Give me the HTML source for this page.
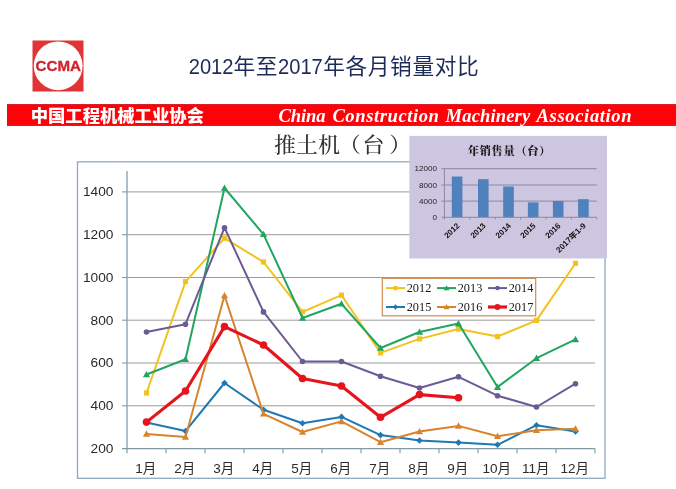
<!DOCTYPE html>
<html lang="zh-CN"><head><meta charset="utf-8"><title>2012年至2017年各月销量对比</title>
<style>
html,body{margin:0;padding:0;background:#fff;}
body{width:676px;height:489px;overflow:hidden;position:relative;font-family:"Liberation Sans","Noto Sans CJK SC",sans-serif;}
svg{position:absolute;left:0;top:0;display:block;filter:blur(0.35px);}
.sans{font-family:"Liberation Sans","Noto Sans CJK SC",sans-serif;}
.serif{font-family:"Liberation Serif","Noto Serif CJK SC",serif;}
</style></head><body>
<svg width="676" height="489" viewBox="0 0 676 489">
<rect width="676" height="489" fill="#ffffff"/>

<g id="logo"><rect x="32.5" y="40.5" width="51" height="51" fill="#e23434"/><circle cx="58.2" cy="65.8" r="24.4" fill="#ffffff"/>
<text x="35.6" y="71.1" class="sans" font-size="15.2" font-weight="700" fill="#d0252e" stroke="#d0252e" stroke-width="0.35" textLength="45.4" lengthAdjust="spacingAndGlyphs">CCMA</text></g>
<text y="74.3" class="sans" font-size="21.7" fill="#1c2b5a"><tspan x="188.7" textLength="44.8" lengthAdjust="spacingAndGlyphs">2012</tspan><tspan x="233.4 255.7">年至</tspan><tspan x="278" textLength="44.8" lengthAdjust="spacingAndGlyphs">2017</tspan><tspan x="323.2 345.5 367.8 390.1 412.4 434.7 457">年各月销量对比</tspan></text>
<rect x="7" y="104" width="669" height="22" fill="#fd0309"/>
<rect x="7" y="104" width="669" height="1" fill="#d8202a"/><rect x="7" y="125" width="669" height="1" fill="#d8202a"/>
<text x="30.7" y="122" class="sans" font-size="16.6" font-weight="900" fill="#ffffff" textLength="173.2" lengthAdjust="spacingAndGlyphs">中国工程机械工业协会</text>
<text y="121.9" class="serif" font-size="18.6" font-weight="700" font-style="italic" fill="#ffffff"><tspan x="278.6" textLength="47" lengthAdjust="spacing">China</tspan> <tspan x="332.4" textLength="106.5" lengthAdjust="spacing">Construction</tspan> <tspan x="445.6" textLength="84.6" lengthAdjust="spacing">Machinery</tspan> <tspan x="536.6" textLength="95" lengthAdjust="spacing">Association</tspan></text>
<rect x="77.5" y="161.8" width="527.5" height="316.5" fill="#ffffff" stroke="#8fa9c4" stroke-width="1.3"/>
<text transform="translate(0 152.2) scale(1 0.95)" y="0" x="274 296 318 338.8 362.6 389.2" class="serif" font-size="22" font-weight="500" fill="#333333">推土机（台）</text>
<line x1="127" y1="191.9" x2="595" y2="191.9" stroke="#9b9b9b" stroke-width="1"/>
<line x1="127" y1="234.7" x2="595" y2="234.7" stroke="#9b9b9b" stroke-width="1"/>
<line x1="127" y1="277.5" x2="595" y2="277.5" stroke="#9b9b9b" stroke-width="1"/>
<line x1="127" y1="320.2" x2="595" y2="320.2" stroke="#9b9b9b" stroke-width="1"/>
<line x1="127" y1="363.0" x2="595" y2="363.0" stroke="#9b9b9b" stroke-width="1"/>
<line x1="127" y1="405.8" x2="595" y2="405.8" stroke="#9b9b9b" stroke-width="1"/>
<line x1="127" y1="171" x2="127" y2="453.3" stroke="#7fa0aa" stroke-width="1.3"/>
<line x1="122" y1="448.6" x2="595" y2="448.6" stroke="#7f9aa2" stroke-width="1.2"/>
<line x1="122" y1="191.9" x2="127" y2="191.9" stroke="#7fa0aa" stroke-width="1.1"/>
<line x1="122" y1="234.7" x2="127" y2="234.7" stroke="#7fa0aa" stroke-width="1.1"/>
<line x1="122" y1="277.5" x2="127" y2="277.5" stroke="#7fa0aa" stroke-width="1.1"/>
<line x1="122" y1="320.2" x2="127" y2="320.2" stroke="#7fa0aa" stroke-width="1.1"/>
<line x1="122" y1="363.0" x2="127" y2="363.0" stroke="#7fa0aa" stroke-width="1.1"/>
<line x1="122" y1="405.8" x2="127" y2="405.8" stroke="#7fa0aa" stroke-width="1.1"/>
<line x1="166.0" y1="448.6" x2="166.0" y2="453.3" stroke="#7f9aa2" stroke-width="1.1"/>
<line x1="205.0" y1="448.6" x2="205.0" y2="453.3" stroke="#7f9aa2" stroke-width="1.1"/>
<line x1="244.0" y1="448.6" x2="244.0" y2="453.3" stroke="#7f9aa2" stroke-width="1.1"/>
<line x1="283.0" y1="448.6" x2="283.0" y2="453.3" stroke="#7f9aa2" stroke-width="1.1"/>
<line x1="322.0" y1="448.6" x2="322.0" y2="453.3" stroke="#7f9aa2" stroke-width="1.1"/>
<line x1="361.0" y1="448.6" x2="361.0" y2="453.3" stroke="#7f9aa2" stroke-width="1.1"/>
<line x1="400.0" y1="448.6" x2="400.0" y2="453.3" stroke="#7f9aa2" stroke-width="1.1"/>
<line x1="439.0" y1="448.6" x2="439.0" y2="453.3" stroke="#7f9aa2" stroke-width="1.1"/>
<line x1="478.0" y1="448.6" x2="478.0" y2="453.3" stroke="#7f9aa2" stroke-width="1.1"/>
<line x1="517.0" y1="448.6" x2="517.0" y2="453.3" stroke="#7f9aa2" stroke-width="1.1"/>
<line x1="556.0" y1="448.6" x2="556.0" y2="453.3" stroke="#7f9aa2" stroke-width="1.1"/>
<line x1="595.0" y1="448.6" x2="595.0" y2="453.3" stroke="#7f9aa2" stroke-width="1.1"/>
<text x="113.4" y="196.2" text-anchor="end" class="sans" font-size="13.7" fill="#2a2a2a">1400</text>
<text x="113.4" y="239.0" text-anchor="end" class="sans" font-size="13.7" fill="#2a2a2a">1200</text>
<text x="113.4" y="281.8" text-anchor="end" class="sans" font-size="13.7" fill="#2a2a2a">1000</text>
<text x="113.4" y="324.5" text-anchor="end" class="sans" font-size="13.7" fill="#2a2a2a">800</text>
<text x="113.4" y="367.3" text-anchor="end" class="sans" font-size="13.7" fill="#2a2a2a">600</text>
<text x="113.4" y="410.1" text-anchor="end" class="sans" font-size="13.7" fill="#2a2a2a">400</text>
<text x="113.4" y="452.9" text-anchor="end" class="sans" font-size="13.7" fill="#2a2a2a">200</text>
<text x="145.8" y="472.8" text-anchor="middle" class="sans" font-size="13.5" fill="#2a2a2a">1月</text>
<text x="184.8" y="472.8" text-anchor="middle" class="sans" font-size="13.5" fill="#2a2a2a">2月</text>
<text x="223.8" y="472.8" text-anchor="middle" class="sans" font-size="13.5" fill="#2a2a2a">3月</text>
<text x="262.8" y="472.8" text-anchor="middle" class="sans" font-size="13.5" fill="#2a2a2a">4月</text>
<text x="301.8" y="472.8" text-anchor="middle" class="sans" font-size="13.5" fill="#2a2a2a">5月</text>
<text x="340.8" y="472.8" text-anchor="middle" class="sans" font-size="13.5" fill="#2a2a2a">6月</text>
<text x="379.8" y="472.8" text-anchor="middle" class="sans" font-size="13.5" fill="#2a2a2a">7月</text>
<text x="418.8" y="472.8" text-anchor="middle" class="sans" font-size="13.5" fill="#2a2a2a">8月</text>
<text x="457.8" y="472.8" text-anchor="middle" class="sans" font-size="13.5" fill="#2a2a2a">9月</text>
<text x="496.8" y="472.8" text-anchor="middle" class="sans" font-size="13.5" fill="#2a2a2a">10月</text>
<text x="535.8" y="472.8" text-anchor="middle" class="sans" font-size="13.5" fill="#2a2a2a">11月</text>
<text x="574.8" y="472.8" text-anchor="middle" class="sans" font-size="13.5" fill="#2a2a2a">12月</text>
<polyline points="146.5,393.0 185.5,281.7 224.5,238.2 263.5,262.0 302.5,311.9 341.5,295.2 380.5,352.9 419.5,338.9 458.5,329.0 497.5,336.6 536.5,320.4 575.5,263.3" fill="none" stroke="#f2c21f" stroke-width="2.0" stroke-linejoin="round" stroke-linecap="round"/>
<rect x="143.9" y="390.4" width="5.2" height="5.2" fill="#f2c21f"/>
<rect x="182.9" y="279.1" width="5.2" height="5.2" fill="#f2c21f"/>
<rect x="221.9" y="235.6" width="5.2" height="5.2" fill="#f2c21f"/>
<rect x="260.9" y="259.4" width="5.2" height="5.2" fill="#f2c21f"/>
<rect x="299.9" y="309.3" width="5.2" height="5.2" fill="#f2c21f"/>
<rect x="338.9" y="292.6" width="5.2" height="5.2" fill="#f2c21f"/>
<rect x="377.9" y="350.3" width="5.2" height="5.2" fill="#f2c21f"/>
<rect x="416.9" y="336.3" width="5.2" height="5.2" fill="#f2c21f"/>
<rect x="455.9" y="326.4" width="5.2" height="5.2" fill="#f2c21f"/>
<rect x="494.9" y="334.0" width="5.2" height="5.2" fill="#f2c21f"/>
<rect x="533.9" y="317.8" width="5.2" height="5.2" fill="#f2c21f"/>
<rect x="572.9" y="260.7" width="5.2" height="5.2" fill="#f2c21f"/>
<polyline points="146.5,374.5 185.5,359.3 224.5,188.0 263.5,234.3 302.5,318.0 341.5,303.8 380.5,348.0 419.5,332.0 458.5,323.6 497.5,387.1 536.5,358.2 575.5,339.4" fill="none" stroke="#21a561" stroke-width="2.0" stroke-linejoin="round" stroke-linecap="round"/>
<path d="M146.5 370.9L150.1 377.3L142.9 377.3Z" fill="#21a561"/>
<path d="M185.5 355.7L189.1 362.1L181.9 362.1Z" fill="#21a561"/>
<path d="M224.5 184.4L228.1 190.8L220.9 190.8Z" fill="#21a561"/>
<path d="M263.5 230.7L267.1 237.1L259.9 237.1Z" fill="#21a561"/>
<path d="M302.5 314.4L306.1 320.8L298.9 320.8Z" fill="#21a561"/>
<path d="M341.5 300.2L345.1 306.6L337.9 306.6Z" fill="#21a561"/>
<path d="M380.5 344.4L384.1 350.8L376.9 350.8Z" fill="#21a561"/>
<path d="M419.5 328.4L423.1 334.8L415.9 334.8Z" fill="#21a561"/>
<path d="M458.5 320.0L462.1 326.4L454.9 326.4Z" fill="#21a561"/>
<path d="M497.5 383.5L501.1 389.9L493.9 389.9Z" fill="#21a561"/>
<path d="M536.5 354.6L540.1 361.0L532.9 361.0Z" fill="#21a561"/>
<path d="M575.5 335.8L579.1 342.2L571.9 342.2Z" fill="#21a561"/>
<polyline points="146.5,332.0 185.5,324.2 224.5,227.7 263.5,311.9 302.5,361.5 341.5,361.5 380.5,376.2 419.5,388.0 458.5,376.8 497.5,395.7 536.5,407.0 575.5,383.7" fill="none" stroke="#6b5b95" stroke-width="2.0" stroke-linejoin="round" stroke-linecap="round"/>
<circle cx="146.5" cy="332.0" r="2.8" fill="#6b5b95"/>
<circle cx="185.5" cy="324.2" r="2.8" fill="#6b5b95"/>
<circle cx="224.5" cy="227.7" r="2.8" fill="#6b5b95"/>
<circle cx="263.5" cy="311.9" r="2.8" fill="#6b5b95"/>
<circle cx="302.5" cy="361.5" r="2.8" fill="#6b5b95"/>
<circle cx="341.5" cy="361.5" r="2.8" fill="#6b5b95"/>
<circle cx="380.5" cy="376.2" r="2.8" fill="#6b5b95"/>
<circle cx="419.5" cy="388.0" r="2.8" fill="#6b5b95"/>
<circle cx="458.5" cy="376.8" r="2.8" fill="#6b5b95"/>
<circle cx="497.5" cy="395.7" r="2.8" fill="#6b5b95"/>
<circle cx="536.5" cy="407.0" r="2.8" fill="#6b5b95"/>
<circle cx="575.5" cy="383.7" r="2.8" fill="#6b5b95"/>
<polyline points="146.5,422.5 185.5,431.1 224.5,383.0 263.5,409.8 302.5,423.3 341.5,416.9 380.5,435.1 419.5,440.5 458.5,442.6 497.5,444.8 536.5,425.2 575.5,431.5" fill="none" stroke="#1f78b4" stroke-width="2.0" stroke-linejoin="round" stroke-linecap="round"/>
<path d="M146.5 419.2L149.8 422.5L146.5 425.8L143.2 422.5Z" fill="#1f78b4"/>
<path d="M185.5 427.8L188.8 431.1L185.5 434.4L182.2 431.1Z" fill="#1f78b4"/>
<path d="M224.5 379.7L227.8 383.0L224.5 386.3L221.2 383.0Z" fill="#1f78b4"/>
<path d="M263.5 406.5L266.8 409.8L263.5 413.1L260.2 409.8Z" fill="#1f78b4"/>
<path d="M302.5 420.0L305.8 423.3L302.5 426.6L299.2 423.3Z" fill="#1f78b4"/>
<path d="M341.5 413.6L344.8 416.9L341.5 420.2L338.2 416.9Z" fill="#1f78b4"/>
<path d="M380.5 431.8L383.8 435.1L380.5 438.4L377.2 435.1Z" fill="#1f78b4"/>
<path d="M419.5 437.2L422.8 440.5L419.5 443.8L416.2 440.5Z" fill="#1f78b4"/>
<path d="M458.5 439.3L461.8 442.6L458.5 445.9L455.2 442.6Z" fill="#1f78b4"/>
<path d="M497.5 441.5L500.8 444.8L497.5 448.1L494.2 444.8Z" fill="#1f78b4"/>
<path d="M536.5 421.9L539.8 425.2L536.5 428.5L533.2 425.2Z" fill="#1f78b4"/>
<path d="M575.5 428.2L578.8 431.5L575.5 434.8L572.2 431.5Z" fill="#1f78b4"/>
<polyline points="146.5,433.9 185.5,437.0 224.5,295.5 263.5,413.8 302.5,432.0 341.5,421.4 380.5,442.2 419.5,431.5 458.5,425.9 497.5,436.2 536.5,430.3 575.5,428.8" fill="none" stroke="#d8832e" stroke-width="2.0" stroke-linejoin="round" stroke-linecap="round"/>
<path d="M146.5 430.3L150.1 436.7L142.9 436.7Z" fill="#d8832e"/>
<path d="M185.5 433.4L189.1 439.8L181.9 439.8Z" fill="#d8832e"/>
<path d="M224.5 291.9L228.1 298.3L220.9 298.3Z" fill="#d8832e"/>
<path d="M263.5 410.2L267.1 416.6L259.9 416.6Z" fill="#d8832e"/>
<path d="M302.5 428.4L306.1 434.8L298.9 434.8Z" fill="#d8832e"/>
<path d="M341.5 417.8L345.1 424.2L337.9 424.2Z" fill="#d8832e"/>
<path d="M380.5 438.6L384.1 445.0L376.9 445.0Z" fill="#d8832e"/>
<path d="M419.5 427.9L423.1 434.3L415.9 434.3Z" fill="#d8832e"/>
<path d="M458.5 422.3L462.1 428.7L454.9 428.7Z" fill="#d8832e"/>
<path d="M497.5 432.6L501.1 439.0L493.9 439.0Z" fill="#d8832e"/>
<path d="M536.5 426.7L540.1 433.1L532.9 433.1Z" fill="#d8832e"/>
<path d="M575.5 425.2L579.1 431.6L571.9 431.6Z" fill="#d8832e"/>
<polyline points="146.5,422.1 185.5,391.0 224.5,326.6 263.5,345.0 302.5,378.5 341.5,386.0 380.5,417.3 419.5,394.6 458.5,397.7" fill="none" stroke="#e6141c" stroke-width="3.1" stroke-linejoin="round" stroke-linecap="round"/>
<circle cx="146.5" cy="422.1" r="3.8" fill="#e6141c"/>
<circle cx="185.5" cy="391.0" r="3.8" fill="#e6141c"/>
<circle cx="224.5" cy="326.6" r="3.8" fill="#e6141c"/>
<circle cx="263.5" cy="345.0" r="3.8" fill="#e6141c"/>
<circle cx="302.5" cy="378.5" r="3.8" fill="#e6141c"/>
<circle cx="341.5" cy="386.0" r="3.8" fill="#e6141c"/>
<circle cx="380.5" cy="417.3" r="3.8" fill="#e6141c"/>
<circle cx="419.5" cy="394.6" r="3.8" fill="#e6141c"/>
<circle cx="458.5" cy="397.7" r="3.8" fill="#e6141c"/>
<rect x="382.3" y="278.3" width="153.4" height="37.5" fill="#ffffff" stroke="#cf8a50" stroke-width="1.2"/>
<line x1="386.0" y1="288.1" x2="405.0" y2="288.1" stroke="#f2c21f" stroke-width="2.0"/>
<g transform="translate(395.5 288.1) scale(0.8)"><rect x="-2.6" y="-2.6" width="5.2" height="5.2" fill="#f2c21f"/></g>
<text x="406.7" y="292.4" class="serif" font-size="12.6" fill="#1a1a1a" textLength="24.6" lengthAdjust="spacingAndGlyphs">2012</text>
<line x1="437.0" y1="288.1" x2="456.0" y2="288.1" stroke="#21a561" stroke-width="2.0"/>
<g transform="translate(446.5 288.1) scale(0.8)"><path d="M0.0 -3.6L3.6 2.8L-3.6 2.8Z" fill="#21a561"/></g>
<text x="457.7" y="292.4" class="serif" font-size="12.6" fill="#1a1a1a" textLength="24.6" lengthAdjust="spacingAndGlyphs">2013</text>
<line x1="488.0" y1="288.1" x2="507.0" y2="288.1" stroke="#6b5b95" stroke-width="2.0"/>
<g transform="translate(497.5 288.1) scale(0.8)"><circle cx="0.0" cy="0.0" r="2.8" fill="#6b5b95"/></g>
<text x="508.7" y="292.4" class="serif" font-size="12.6" fill="#1a1a1a" textLength="24.6" lengthAdjust="spacingAndGlyphs">2014</text>
<line x1="386.0" y1="307.0" x2="405.0" y2="307.0" stroke="#1f78b4" stroke-width="2.0"/>
<g transform="translate(395.5 307.0) scale(0.8)"><path d="M0.0 -3.3L3.3 0.0L0.0 3.3L-3.3 0.0Z" fill="#1f78b4"/></g>
<text x="406.7" y="311.3" class="serif" font-size="12.6" fill="#1a1a1a" textLength="24.6" lengthAdjust="spacingAndGlyphs">2015</text>
<line x1="437.0" y1="307.0" x2="456.0" y2="307.0" stroke="#d8832e" stroke-width="2.0"/>
<g transform="translate(446.5 307.0) scale(0.8)"><path d="M0.0 -3.6L3.6 2.8L-3.6 2.8Z" fill="#d8832e"/></g>
<text x="457.7" y="311.3" class="serif" font-size="12.6" fill="#1a1a1a" textLength="24.6" lengthAdjust="spacingAndGlyphs">2016</text>
<line x1="488.0" y1="307.0" x2="507.0" y2="307.0" stroke="#e6141c" stroke-width="3.2"/>
<g transform="translate(497.5 307.0) scale(0.8)"><circle cx="0.0" cy="0.0" r="3.8" fill="#e6141c"/></g>
<text x="508.7" y="311.3" class="serif" font-size="12.6" fill="#1a1a1a" textLength="24.6" lengthAdjust="spacingAndGlyphs">2017</text>
<g id="inset"><rect x="409.4" y="135.9" width="197.6" height="122.6" fill="#cdc6e0"/>
<text x="467.8 479.7 491.6 503.5 515.4 527.3 539.2" y="154.9" class="serif" font-size="11.2" font-weight="900" fill="#1a1a1a">年销售量（台）</text>
<line x1="441.5" y1="168.7" x2="596.8" y2="168.7" stroke="#8d87a3" stroke-width="1"/>
<line x1="441.5" y1="185.0" x2="596.8" y2="185.0" stroke="#8d87a3" stroke-width="1"/>
<line x1="441.5" y1="201.1" x2="596.8" y2="201.1" stroke="#8d87a3" stroke-width="1"/>
<line x1="444.4" y1="168.7" x2="444.4" y2="219.5" stroke="#8d87a3" stroke-width="1"/>
<rect x="451.8" y="176.5" width="10.6" height="40.8" fill="#4f81bd"/>
<rect x="478.0" y="179.2" width="10.6" height="38.1" fill="#4f81bd"/>
<rect x="503.2" y="186.5" width="10.6" height="30.8" fill="#4f81bd"/>
<rect x="527.9" y="202.4" width="10.6" height="14.9" fill="#4f81bd"/>
<rect x="552.9" y="201.0" width="10.6" height="16.3" fill="#4f81bd"/>
<rect x="578.1" y="199.2" width="10.6" height="18.1" fill="#4f81bd"/>
<line x1="441.5" y1="217.3" x2="596.8" y2="217.3" stroke="#8d87a3" stroke-width="1"/>
<line x1="469.8" y1="217.3" x2="469.8" y2="219.5" stroke="#8d87a3" stroke-width="1"/>
<line x1="495.2" y1="217.3" x2="495.2" y2="219.5" stroke="#8d87a3" stroke-width="1"/>
<line x1="520.6" y1="217.3" x2="520.6" y2="219.5" stroke="#8d87a3" stroke-width="1"/>
<line x1="546.0" y1="217.3" x2="546.0" y2="219.5" stroke="#8d87a3" stroke-width="1"/>
<line x1="571.4" y1="217.3" x2="571.4" y2="219.5" stroke="#8d87a3" stroke-width="1"/>
<line x1="596.8" y1="217.3" x2="596.8" y2="219.5" stroke="#8d87a3" stroke-width="1"/>
<text x="437" y="171.3" text-anchor="end" class="sans" font-size="8.1" fill="#222">12000</text>
<text x="437" y="187.6" text-anchor="end" class="sans" font-size="8.1" fill="#222">8000</text>
<text x="437" y="203.7" text-anchor="end" class="sans" font-size="8.1" fill="#222">4000</text>
<text x="437" y="219.9" text-anchor="end" class="sans" font-size="8.1" fill="#222">0</text>
<text transform="translate(455.8 222.0) rotate(-45)" x="0" y="6" text-anchor="end" class="sans" font-size="8" font-weight="700" fill="#111">2012</text>
<text transform="translate(482.0 222.0) rotate(-45)" x="0" y="6" text-anchor="end" class="sans" font-size="8" font-weight="700" fill="#111">2013</text>
<text transform="translate(507.2 222.0) rotate(-45)" x="0" y="6" text-anchor="end" class="sans" font-size="8" font-weight="700" fill="#111">2014</text>
<text transform="translate(531.9 222.0) rotate(-45)" x="0" y="6" text-anchor="end" class="sans" font-size="8" font-weight="700" fill="#111">2015</text>
<text transform="translate(556.9 222.0) rotate(-45)" x="0" y="6" text-anchor="end" class="sans" font-size="8" font-weight="700" fill="#111">2016</text>
<text transform="translate(582.1 222.0) rotate(-45)" x="0" y="6" text-anchor="end" class="sans" font-size="8" font-weight="700" fill="#111" textLength="38.2" lengthAdjust="spacingAndGlyphs">2017年1-9</text>
</g>
</svg></body></html>
